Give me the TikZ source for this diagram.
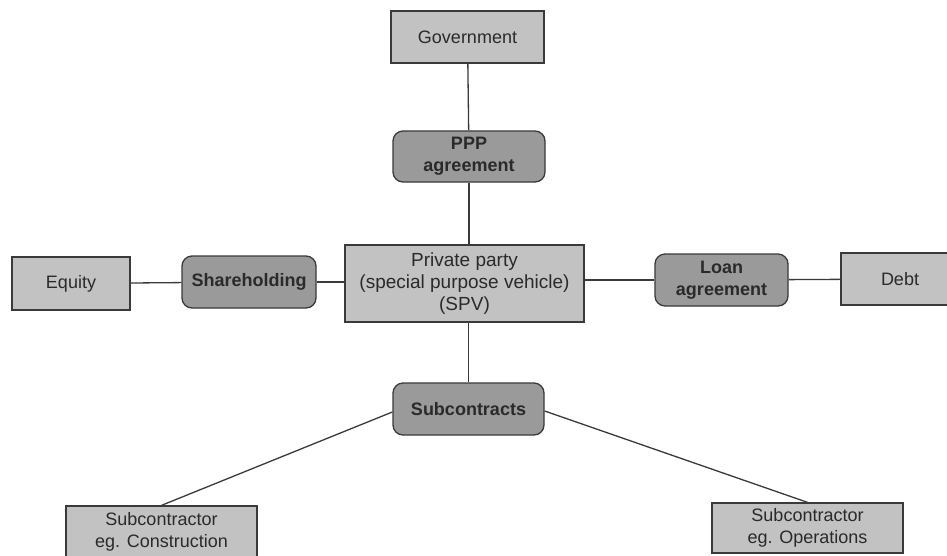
\documentclass[tikz,border=0pt]{standalone}
\usepackage{fontspec}
\setmainfont{Liberation Sans}
\definecolor{boxfill}{HTML}{C2C2C2}
\definecolor{agrfill}{HTML}{9A9A9A}
\definecolor{edge}{HTML}{3A3A3A}
\definecolor{ink}{HTML}{2A2A2A}
\begin{document}
\begin{tikzpicture}[x=1pt,y=-1pt,
  party/.style={draw=edge,line width=1.3pt,fill=boxfill,text=ink,
    font=\fontsize{18}{22}\selectfont,align=center,inner sep=0pt,
    minimum width=#1},
  party/.default=118pt,
  agreement/.style={draw=edge,line width=1.3pt,fill=agrfill,text=ink,
    rounded corners=10pt,font=\fontsize{18}{22}\selectfont\bfseries,
    align=center,inner sep=0pt,minimum height=52pt,minimum width=#1},
  agreement/.default=152pt,
  link/.style={draw=edge,line width=1.3pt}]
\fill[white] (0,0) rectangle (947,555);
\useasboundingbox (0,0) rectangle (947,555);
% nodes
\node[party=153pt,minimum height=52pt] (gov) at (467.5,37) {Government};
\node[agreement=152pt,minimum height=51pt] (ppp) at (469,156.5) {PPP\\agreement};
\node[party=118pt,minimum height=53pt] (eq) at (71,283.5) {Equity};
\node[agreement=134pt] (sh) at (249,282) {Shareholding};
\node[party=239pt,minimum height=77pt,font=\fontsize{19}{22}\selectfont] (spv) at (464.5,283.5) {Private party\\(special purpose vehicle)\\(SPV)};
\node[agreement=133pt] (loan) at (721.5,280) {Loan\\agreement};
\node[party=118pt,minimum height=52pt] (debt) at (900,279) {Debt};
\node[agreement=151pt] (sub) at (468.5,409) {Subcontracts};
\node[party=191pt,minimum height=52pt] (cons) at (161.5,532) {Subcontractor\\eg. Construction};
\node[party=191pt,minimum height=50pt] (ops) at (807.5,528) {Subcontractor\\eg. Operations};
% connectors
\draw[link] (gov) -- (ppp);
\draw[link] (ppp) -- (spv.north -| ppp);
\draw[link] (spv.south -| sub) -- (sub);
\draw[link] (eq) -- (sh);
\draw[link] (sh) -- (sh -| spv.west);
\draw[link] (loan) -- (loan -| spv.east);
\draw[link] (loan) -- (debt);
\draw[link] ([yshift=-3pt]sub.west) -- (cons.north);
\draw[link] ([yshift=-2pt]sub.east) -- (ops.north);
\end{tikzpicture}
\end{document}
